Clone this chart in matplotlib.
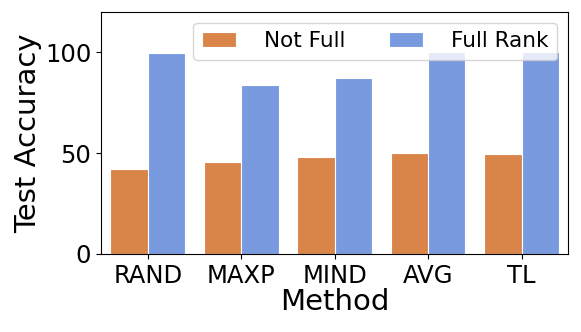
import matplotlib
matplotlib.use("Agg")
import matplotlib.pyplot as plt
import numpy as np

methods = ["RAND", "MAXP", "MIND", "AVG", "TL"]
not_full = [42.2, 45.7, 48.1, 50.1, 49.6]
full_rank = [99.7, 83.9, 87.3, 100.0, 100.0]

fig = plt.figure(figsize=(5.81, 3.32), dpi=100)
ax = fig.add_axes([0.174, 0.235, 0.804, 0.729])

x = np.arange(len(methods))
w = 0.4
ax.bar(x - w / 2, not_full, w, color="#d9854a", edgecolor="white", linewidth=0.8, label="Not Full")
ax.bar(x + w / 2, full_rank, w, color="#7a9ae0", edgecolor="white", linewidth=0.8, label="Full Rank")

ax.set_xlim(-0.5, len(methods) - 0.5)
ax.set_ylim(0, 120)
ax.set_yticks([0, 50, 100])
ax.set_xticks(x)
ax.set_xticklabels(methods)
ax.tick_params(labelsize=17.5)
ax.set_xlabel("Method", fontsize=21, labelpad=0)
ax.set_ylabel("Test Accuracy", fontsize=21, labelpad=2)
ax.legend(loc="upper right", ncol=2, fontsize=15.5, handlelength=1.6,
          handletextpad=1.3, columnspacing=2.0)

fig.savefig("out.png", dpi=100)
